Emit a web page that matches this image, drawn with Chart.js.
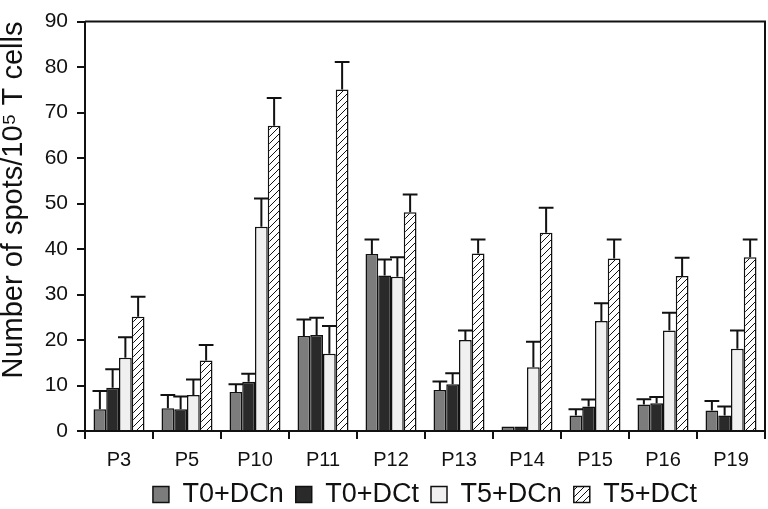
<!DOCTYPE html>
<html>
<head>
<meta charset="utf-8">
<script src="https://cdn.jsdelivr.net/npm/chart.js@4/dist/chart.umd.min.js"></script>
<style>
  html, body { margin: 0; padding: 0; background: #fff; }
  #wrap { width: 768px; height: 509px; }
</style>
</head>
<body>
<div id="wrap"><canvas id="spotsChart" width="768" height="509"></canvas></div>
<script>
const patients = ['P3', 'P5', 'P10', 'P11', 'P12', 'P13', 'P14', 'P15', 'P16', 'P19'];
const seriesNames = ['T0+DCn', 'T0+DCt', 'T5+DCn', 'T5+DCt'];

const t0DCn = [4.8, 5.0, 8.6, 20.9, 38.9, 9.0, 1.0, 3.4, 5.8, 4.5];
const t0DCt = [9.5, 4.8, 10.8, 21.1, 34.2, 10.3, 1.0, 5.4, 6.1, 3.4];
const t5DCn = [16.1, 7.9, 44.9, 17.0, 33.9, 20.0, 14.0, 24.2, 22.1, 18.1];
const t5DCt = [25.1, 15.5, 67.1, 75.1, 48.1, 39.0, 43.6, 37.9, 34.1, 38.2];

const t0DCnErr = [4.0, 2.9, 1.7, 3.6, 3.2, 1.9, 0, 1.4, 1.2, 2.1];
const t0DCtErr = [4.1, 2.8, 1.8, 3.8, 3.5, 2.4, 0, 1.5, 1.4, 2.0];
const t5DCnErr = [4.5, 3.4, 6.2, 6.1, 4.3, 2.1, 5.6, 3.9, 3.9, 4.0];
const t5DCtErr = [4.4, 3.4, 6.1, 6.0, 3.9, 3.1, 5.5, 4.2, 4.0, 3.9];

const yTicks = [0, 10, 20, 30, 40, 50, 60, 70, 80, 90];

function makeHatch() {
    const size = 7;
    const c = document.createElement('canvas');
    c.width = size;
    c.height = size;
    const ctx = c.getContext('2d');
    ctx.fillStyle = '#ffffff';
    ctx.fillRect(0, 0, size, size);
    ctx.strokeStyle = '#111111';
    ctx.lineWidth = 1;
    ctx.beginPath();
    ctx.moveTo(-1, size + 1);
    ctx.lineTo(size + 1, -1);
    ctx.moveTo(-1, 1);
    ctx.lineTo(1, -1);
    ctx.moveTo(size - 1, size + 1);
    ctx.lineTo(size + 1, size - 1);
    ctx.stroke();
    return ctx.createPattern(c, 'repeat');
}

const errorBars = {
    id: 'errorBars',
    afterDatasetsDraw(chart) {
        const ctx = chart.ctx;
        const yScale = chart.scales.y;
        ctx.save();
        ctx.strokeStyle = '#111111';
        ctx.lineWidth = 2;
        chart.data.datasets.forEach((ds, i) => {
            const meta = chart.getDatasetMeta(i);
            meta.data.forEach((bar, j) => {
                const err = ds.errors[j];
                if (!err) return;
                const top = yScale.getPixelForValue(ds.data[j] + err);
                const half = bar.width / 2 + 1;
                ctx.beginPath();
                ctx.moveTo(bar.x, bar.y);
                ctx.lineTo(bar.x, top);
                ctx.moveTo(bar.x - half, top);
                ctx.lineTo(bar.x + half, top);
                ctx.stroke();
            });
        });
        ctx.restore();
    }
};

// top and right edges of the plot box
const frame = {
    id: 'frame',
    afterDraw(chart) {
        const { ctx, chartArea } = chart;
        ctx.save();
        ctx.strokeStyle = '#111111';
        ctx.lineWidth = 2;
        ctx.beginPath();
        ctx.moveTo(chartArea.left, chartArea.top);
        ctx.lineTo(chartArea.right, chartArea.top);
        ctx.lineTo(chartArea.right, chartArea.bottom);
        ctx.stroke();
        ctx.restore();
    }
};

// legend sits centred under the plot area
const legendShift = {
    id: 'legendShift',
    afterLayout(chart) {
        const lg = chart.legend;
        const dx = (chart.chartArea.left + chart.chartArea.right) / 2 - (lg.left + lg.right) / 2;
        lg.left += dx;
        lg.right += dx;
        lg.top -= 2;
        lg.bottom -= 2;
    }
};

const canvas = document.getElementById('spotsChart');
const font = 'Liberation Sans, Arial, Helvetica, sans-serif';

// eslint-disable-next-line no-new
new Chart(canvas, {
    type: 'bar',
    data: {
        labels: patients,
        datasets: [
            { label: seriesNames[0], data: t0DCn, errors: t0DCnErr, backgroundColor: '#7c7c7c' },
            { label: seriesNames[1], data: t0DCt, errors: t0DCtErr, backgroundColor: '#2a2a2a' },
            { label: seriesNames[2], data: t5DCn, errors: t5DCnErr, backgroundColor: '#f0f0f0' },
            { label: seriesNames[3], data: t5DCt, errors: t5DCtErr, backgroundColor: makeHatch() },
        ].map(d => Object.assign(d, {
            borderColor: '#111111',
            borderWidth: 1.5,
            categoryPercentage: 0.75,
            barPercentage: 1.0,
        })),
    },
    options: {
        responsive: false,
        animation: false,
        layout: { padding: { top: 11, right: 3, left: 0, bottom: -11 } },
        plugins: {
            tooltip: { enabled: false },
            legend: {
                position: 'bottom',
                labels: {
                    boxWidth: 16,
                    boxHeight: 16,
                    padding: 12,
                    color: '#111111',
                    font: { family: font, size: 27 },
                },
            },
        },
        scales: {
            x: {
                afterFit: s => { s.height = 40; },
                grid: {
                    drawOnChartArea: false,
                    drawTicks: true,
                    tickLength: 8,
                    color: '#111111',
                    lineWidth: 2,
                },
                border: { color: '#111111', width: 2 },
                ticks: {
                    color: '#111111',
                    padding: 9,
                    font: { family: font, size: 20 },
                },
            },
            y: {
                min: 0,
                max: 90,
                afterFit: s => { s.width = 85; },
                afterBuildTicks: s => { s.ticks = yTicks.map(v => ({ value: v })); },
                grid: {
                    drawOnChartArea: false,
                    drawTicks: true,
                    tickLength: 8,
                    color: '#111111',
                    lineWidth: 2,
                },
                border: { color: '#111111', width: 2 },
                ticks: {
                    color: '#111111',
                    padding: 9,
                    font: { family: font, size: 21 },
                },
                title: {
                    display: true,
                    text: 'Number of spots/10\u2075 T cells',
                    align: 'end',
                    color: '#111111',
                    padding: { top: -3, bottom: 0 },
                    font: { family: font, size: 29 },
                },
            },
        },
    },
    plugins: [errorBars, frame, legendShift],
});
</script>
</body>
</html>
